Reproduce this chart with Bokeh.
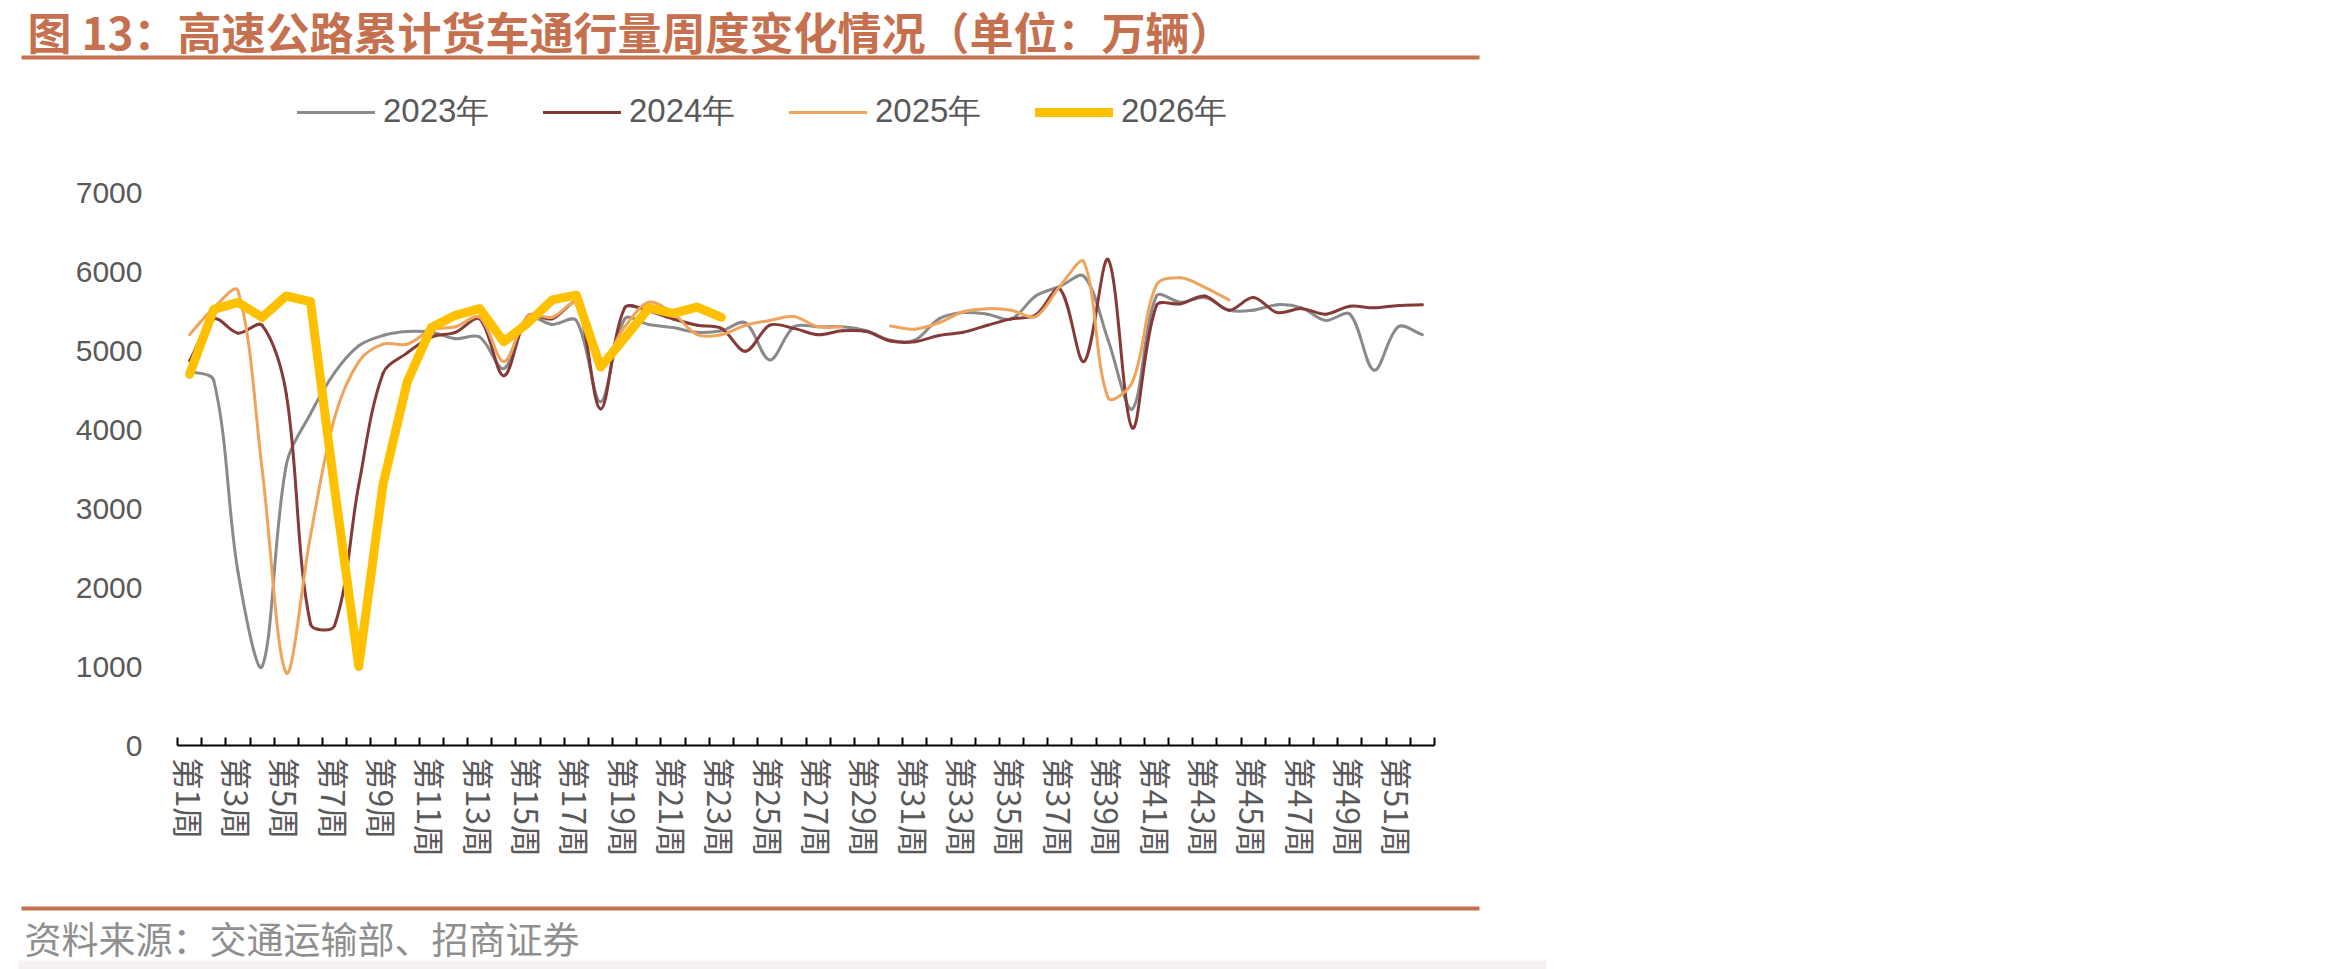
import math
from bokeh.plotting import figure
from bokeh.models import (Range1d, FixedTicker, LinearAxis, Legend, LegendItem,
                          ColumnDataSource, Label)
from bokeh.embed import file_html
from bokeh.resources import INLINE

NaN = float("nan")

# ---------------- data ----------------
weeks = list(range(1, 53))
week_labels = {w: f"第{w}周" for w in range(1, 53, 2)}
y_ticks = [0, 1000, 2000, 3000, 4000, 5000, 6000, 7000]

y2023 = [4740, 4620, 2200, 1000, 3550, 4200, 4720, 5060, 5190, 5240,
         5230, 5150, 5170, 4770, 5420, 5330, 5380, 4350, 5400, 5330,
         5290, 5230, 5250, 5350, 4880, 5300, 5300, 5300, 5250, 5130,
         5130, 5400, 5480, 5460, 5400, 5690, 5810, 5940, 5130, 4260,
         5690, 5610, 5670, 5510, 5510, 5580, 5540, 5380, 5460, 4750,
         5300, 5200]
y2024 = [4870, 5400, 5220, 5320, 4450, 1540, 1520, 3300, 4710, 4970,
         5170, 5230, 5400, 4680, 5440, 5400, 5600, 4260, 5540, 5500,
         5400, 5320, 5280, 4990, 5320, 5280, 5200, 5250, 5240, 5120,
         5110, 5190, 5230, 5320, 5400, 5450, 5780, 4860, 6150, 4020,
         5570, 5590, 5690, 5510, 5670, 5480, 5530, 5460, 5560, 5540,
         5570, 5580]
y2025 = [5200, 5540, 5760, 3500, 920, 2650, 4150, 4860, 5080, 5080,
         5260, 5300, 5420, 4860, 5440, 5420, 5600, 4850, 5300, 5610,
         5470, 5200, 5200, 5320, 5380, 5430, 5300, 5300, NaN, 5310,
         5270, 5350, 5490, 5530, 5510, 5430, 5810, 6120, 4400, 4600,
         5830, 5920, 5800, 5640]
y2026 = [4700, 5520, 5610, 5420, 5690, 5620, 3250, 1000, 3300, 4600,
         5290, 5445, 5530, 5110, 5350, 5640, 5700, 4790, 5160, 5540,
         5470, 5550, 5420]
series_names = ["2023年", "2024年", "2025年", "2026年"]

# ---------------- layout / style ----------------
W, H = 2350, 969
FL, FR, FT, FB = 177, 1434, 192, 745          # plot area in page pixels
XMIN, XMAX, YMIN, YMAX = 0.5, 52.5, 0, 7000
kx = (XMAX - XMIN) / (FR - FL)
ky = (YMAX - YMIN) / (FB - FT)

BROWN = "#C5714F"
TXT = "#595959"
C23, C24, C25, C26 = "#8A8A8A", "#843B38", "#EEA45A", "#FFC000"
CJK = "Noto Sans CJK SC"
NUM = "Liberation Sans"


def fin(v):
    return v is not None and not (isinstance(v, float) and math.isnan(v))


def smooth_segments(xs, ys, sx=1 / kx, sy=1 / ky):
    """Cubic Bezier pieces through the data points (Excel-like smoothed line)."""
    n = len(ys)
    d = dict(x0=[], y0=[], x1=[], y1=[], cx0=[], cy0=[], cx1=[], cy1=[])

    def dist(a, b):
        return math.hypot((a[0] - b[0]) * sx, (a[1] - b[1]) * sy)

    for i in range(n - 1):
        if not (fin(ys[i]) and fin(ys[i + 1])):
            continue
        P1 = (xs[i], ys[i])
        P2 = (xs[i + 1], ys[i + 1])
        P0 = (xs[i - 1], ys[i - 1]) if i - 1 >= 0 and fin(ys[i - 1]) else P1
        P3 = (xs[i + 2], ys[i + 2]) if i + 2 < n and fin(ys[i + 2]) else P2
        d01, d12, d23 = dist(P0, P1), dist(P1, P2), dist(P2, P3)
        f1 = d12 / (d01 + d12) if d01 + d12 > 0 else 0
        f2 = d12 / (d12 + d23) if d12 + d23 > 0 else 0
        c1 = (P1[0] + (P2[0] - P0[0]) * f1 / 3, P1[1] + (P2[1] - P0[1]) * f1 / 3)
        c2 = (P2[0] - (P3[0] - P1[0]) * f2 / 3, P2[1] - (P3[1] - P1[1]) * f2 / 3)
        d["x0"].append(P1[0]); d["y0"].append(P1[1])
        d["x1"].append(P2[0]); d["y1"].append(P2[1])
        d["cx0"].append(c1[0]); d["cy0"].append(c1[1])
        d["cx1"].append(c2[0]); d["cy1"].append(c2[1])
    return ColumnDataSource(d)


p = figure(width=W, height=H,
           x_range=Range1d(XMIN - FL * kx, XMIN + (W - FL) * kx),
           y_range=Range1d(YMIN - (H - FB) * ky, YMAX + FT * ky),
           output_backend="svg", toolbar_location=None, min_border=0,
           x_axis_type=None, y_axis_type=None)
p.outline_line_color = None
p.background_fill_color = "white"
p.border_fill_color = "white"
# page-pixel coordinate system for the page furniture (title, rules, source)
p.extra_x_ranges = {"px": Range1d(0, W)}
p.extra_y_ranges = {"px": Range1d(H, 0)}

# ---------------- axes ----------------
xaxis = LinearAxis(fixed_location=YMIN, bounds=(XMIN, XMAX),
                   ticker=FixedTicker(ticks=list(week_labels.keys()),
                                      minor_ticks=[k + 0.5 for k in range(53)]))
xaxis.major_label_overrides = week_labels
xaxis.major_label_orientation = "vertical"
xaxis.major_label_standoff = 12
xaxis.major_label_text_font = CJK
xaxis.major_label_text_font_size = "32px"
xaxis.major_label_text_color = TXT
xaxis.axis_line_color = "black"
xaxis.axis_line_width = 2
xaxis.major_tick_line_color = None
xaxis.major_tick_in = 0
xaxis.major_tick_out = 0
xaxis.minor_tick_line_color = "black"
xaxis.minor_tick_line_width = 2
xaxis.minor_tick_in = 8
xaxis.minor_tick_out = 0
p.add_layout(xaxis, "below")

yaxis = LinearAxis(fixed_location=XMIN, bounds=(YMIN, YMAX),
                   ticker=FixedTicker(ticks=y_ticks))
yaxis.axis_line_color = None
yaxis.major_tick_line_color = None
yaxis.minor_tick_line_color = None
yaxis.major_tick_in = 0
yaxis.major_tick_out = 0
yaxis.major_label_standoff = 35
yaxis.major_label_text_font = NUM
yaxis.major_label_text_font_size = "30px"
yaxis.major_label_text_color = TXT
p.add_layout(yaxis, "left")

# ---------------- series ----------------
x = weeks
bz = dict(x0="x0", y0="y0", x1="x1", y1="y1", cx0="cx0", cy0="cy0", cx1="cx1", cy1="cy1")
r23 = p.bezier(source=smooth_segments(x, y2023), line_color=C23, line_width=3,
               line_cap="round", **bz)
r24 = p.bezier(source=smooth_segments(x, y2024), line_color=C24, line_width=3,
               line_cap="round", **bz)
r25 = p.bezier(source=smooth_segments(x[:len(y2025)], y2025), line_color=C25, line_width=3,
               line_cap="round", **bz)
r26 = p.line(x[:len(y2026)], y2026, line_color=C26, line_width=9,
             line_join="round", line_cap="round")

legend = Legend(items=[LegendItem(label=series_names[0], renderers=[r23]),
                       LegendItem(label=series_names[1], renderers=[r24]),
                       LegendItem(label=series_names[2], renderers=[r25]),
                       LegendItem(label=series_names[3], renderers=[r26])],
                orientation="horizontal", location=(297, H - 134),
                padding=0, margin=0, spacing=50,
                glyph_width=78, glyph_height=30, label_height=30, label_width=110,
                label_standoff=8, label_text_font=NUM, label_text_font_size="33px",
                label_text_color=TXT, border_line_color=None, background_fill_alpha=0)
p.add_layout(legend)

# ---------------- page furniture ----------------
px = dict(x_range_name="px", y_range_name="px")
p.add_layout(Label(x=27, y=30, text="图 13：高速公路累计货车通行量周度变化情况（单位：万辆）",
                   text_font=CJK, text_font_size="44px", text_font_style="bold",
                   text_color=BROWN, text_baseline="middle", text_align="left", **px))
p.quad(left=21, right=1479, top=55, bottom=59, color=BROWN, line_color=None, **px)
p.quad(left=21, right=1479, top=906, bottom=910, color=BROWN, line_color=None, **px)
p.add_layout(Label(x=24, y=937, text="资料来源：交通运输部、招商证券",
                   text_font=CJK, text_font_size="37px",
                   text_color="#8F8F8F", text_baseline="middle", text_align="left", **px))
p.quad(left=18, right=1546, top=960, bottom=969, color="#F5F0F0", line_color=None, **px)

open("out.html", "w").write(file_html(p, INLINE))
